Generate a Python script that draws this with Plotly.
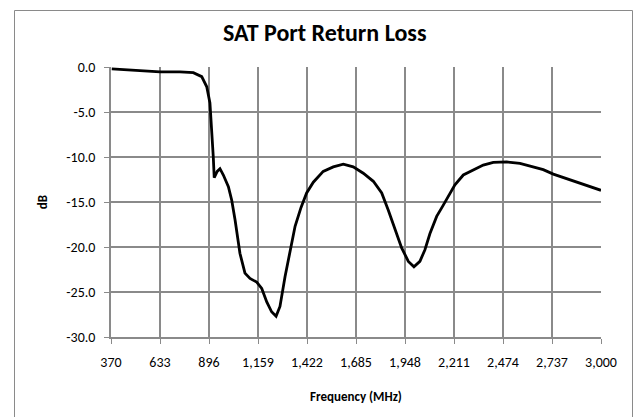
import plotly.graph_objects as go

freq_mhz = [374, 488, 633, 740, 812, 857, 884, 901, 910, 919, 924, 940, 955, 973,
            1000, 1018, 1036, 1062, 1089, 1116, 1152, 1179, 1206, 1232, 1256, 1277,
            1304, 1331, 1358, 1390, 1420, 1456, 1509, 1563, 1617, 1670, 1724, 1778,
            1823, 1858, 1894, 1930, 1966, 1996, 2028, 2055, 2082, 2118, 2152, 2190,
            2216, 2261, 2315, 2368, 2422, 2494, 2565, 2637, 2690, 2744, 2816, 2887,
            2959, 3000]
return_loss_db = [-0.2, -0.35, -0.55, -0.55, -0.63, -1.07, -2.2, -4.0, -6.6, -10.0,
                  -12.3, -11.6, -11.3, -12.0, -13.3, -14.8, -17.0, -20.7, -22.9, -23.5,
                  -23.9, -24.6, -26.1, -27.2, -27.7, -26.6, -23.3, -20.3, -17.7, -15.6,
                  -14.0, -12.8, -11.6, -11.1, -10.8, -11.1, -11.8, -12.7, -14.0, -15.9,
                  -18.1, -20.1, -21.6, -22.2, -21.6, -20.3, -18.5, -16.6, -15.4, -14.1,
                  -13.1, -12.0, -11.4, -10.9, -10.6, -10.55, -10.7, -11.1, -11.4, -11.9,
                  -12.4, -12.9, -13.4, -13.7]

x_tick_vals = [370, 633, 896, 1159, 1422, 1685, 1948, 2211, 2474, 2737, 3000]
x_tick_text = ["370", "633", "896", "1,159", "1,422", "1,685", "1,948", "2,211",
               "2,474", "2,737", "3,000"]
y_tick_vals = [0, -5, -10, -15, -20, -25, -30]
y_tick_text = ["0.0", "-5.0", "-10.0", "-15.0", "-20.0", "-25.0", "-30.0"]

FONT = "Calibri, Carlito, Lato, sans-serif"
GRID = "#8a8a8a"

fig = go.Figure()
fig.add_trace(go.Scatter(x=freq_mhz, y=return_loss_db, mode="lines",
                         line=dict(color="black", width=2.8), showlegend=False,
                         hoverinfo="skip"))

fig.update_layout(
    width=638, height=417,
    margin=dict(l=111, r=37, t=67, b=80),
    paper_bgcolor="white", plot_bgcolor="white",
    font=dict(family=FONT, size=14, color="black"),
    title=dict(text="<b>SAT Port Return Loss</b>", x=0.509, xref="container",
               xanchor="center", y=1 - 33 / 417, yref="container", yanchor="middle",
               font=dict(family=FONT, size=24, color="black")),
    xaxis=dict(range=[370, 3000], tickvals=x_tick_vals, ticktext=x_tick_text,
               showgrid=True, gridcolor=GRID, gridwidth=1.5,
               showline=True, linecolor=GRID, linewidth=1.5,
               ticks="outside", ticklen=5, tickcolor=GRID, tickwidth=1,
               zeroline=False, ticklabelstandoff=6,
               title=dict(text="<b>Frequency (MHz)</b>", standoff=22,
                          font=dict(family=FONT, size=13))),
    yaxis=dict(range=[-30, 0], tickvals=y_tick_vals, ticktext=y_tick_text,
               showgrid=True, gridcolor=GRID, gridwidth=1.5,
               showline=True, linecolor=GRID, linewidth=1.5,
               ticks="outside", ticklen=5, tickcolor=GRID, tickwidth=1,
               zeroline=False, ticklabelstandoff=6,
               title=dict(text="<b>dB</b>", standoff=16,
                          font=dict(family=FONT, size=13))),
)

# Excel-style chart border
fig.add_shape(type="rect", xref="paper", yref="paper",
              x0=(14.5 - 111) / 490, x1=(632.5 - 111) / 490,
              y0=(337 - 425) / 270, y1=(337 - 10.5) / 270,
              line=dict(color="#8a8a8a", width=1), fillcolor="rgba(0,0,0,0)",
              layer="below")

fig.write_html("out.html", config={"displayModeBar": False},
               post_script="document.body.style.margin='0';")
